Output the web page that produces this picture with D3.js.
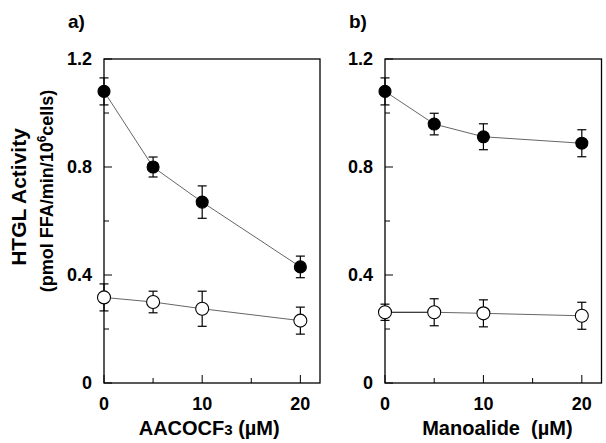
<!DOCTYPE html>
<html>
<head>
<meta charset="utf-8">
<script src="https://cdn.jsdelivr.net/npm/d3@7"></script>
<style>
  body { margin: 0; background: #fff; }
  text { font-family: "Liberation Sans", Arial, sans-serif; font-weight: bold; fill: #000; }
</style>
</head>
<body>
<svg id="chart" width="606" height="443"></svg>
<script>
// doses (uM)
const doses = [0, 5, 10, 20];

// panel a) AACOCF3
const aFilled = [1.08, 0.80, 0.67, 0.43];
const aFilledErr = [0.05, 0.037, 0.06, 0.04];
const aOpen = [0.317, 0.30, 0.275, 0.231];
const aOpenErr = [0.05, 0.04, 0.065, 0.05];

// panel b) Manoalide
const bFilled = [1.08, 0.959, 0.912, 0.888];
const bFilledErr = [0.05, 0.04, 0.048, 0.05];
const bOpen = [0.262, 0.262, 0.258, 0.249];
const bOpenErr = [0.03, 0.05, 0.05, 0.05];

const yMajor = [0, 0.4, 0.8, 1.2];
const yMinor = [0.2, 0.6, 1.0];
const xMajor = [0, 10, 20];
const xMinor = [5, 15];

const svg = d3.select('#chart');

const y = d3.scaleLinear().domain([0, 1.2]).range([383, 59]);

function panel(opts) {
  const x = d3.scaleLinear().domain([0, 22]).range([opts.left, opts.right]);
  const g = svg.append('g');

  // frame
  g.append('rect')
    .attr('x', opts.left).attr('y', y(1.2))
    .attr('width', opts.right - opts.left).attr('height', y(0) - y(1.2))
    .attr('fill', 'none').attr('stroke', '#000').attr('stroke-width', 1.3);

  // y ticks (inward)
  g.selectAll('.ymaj').data(yMajor).enter().append('line')
    .attr('x1', opts.left).attr('x2', opts.left + 8)
    .attr('y1', d => y(d)).attr('y2', d => y(d))
    .attr('stroke', '#000').attr('stroke-width', 1);
  g.selectAll('.ymin').data(yMinor).enter().append('line')
    .attr('x1', opts.left).attr('x2', opts.left + 5)
    .attr('y1', d => y(d)).attr('y2', d => y(d))
    .attr('stroke', '#000').attr('stroke-width', 1);
  g.selectAll('.ylab').data(yMajor).enter().append('text')
    .attr('x', opts.left - 12).attr('y', d => y(d))
    .attr('dy', '0.36em')
    .attr('text-anchor', 'end')
    .style('font-size', '18px')
    .text(d => d === 0 ? '0' : d.toFixed(1));

  // x ticks (inward)
  g.selectAll('.xmaj').data(xMajor).enter().append('line')
    .attr('x1', d => x(d)).attr('x2', d => x(d))
    .attr('y1', y(0)).attr('y2', y(0) - 8)
    .attr('stroke', '#000').attr('stroke-width', 1);
  g.selectAll('.xmin').data(xMinor).enter().append('line')
    .attr('x1', d => x(d)).attr('x2', d => x(d))
    .attr('y1', y(0)).attr('y2', y(0) - 5)
    .attr('stroke', '#000').attr('stroke-width', 1);
  g.selectAll('.xlab').data(xMajor).enter().append('text')
    .attr('x', d => x(d)).attr('y', 410)
    .attr('text-anchor', 'middle')
    .style('font-size', '18px')
    .text(d => d);

  // panel label
  g.append('text').attr('x', opts.labelX).attr('y', 28)
    .style('font-size', '19px').text(opts.label);

  // x title
  opts.xTitle(g.append('text').attr('x', (x(0) + x(20)) / 2 + opts.titleShift).attr('y', 435)
    .attr('text-anchor', 'middle').style('font-size', '20px'));

  // series
  opts.series.forEach(s => {
    const pts = doses.map((d, i) => ({x: d, v: s.vals[i], e: s.errs[i]}));
    d3.pairs(pts).forEach((p, i) => {
      g.append('line')
        .attr('x1', x(p[0].x)).attr('y1', y(p[0].v))
        .attr('x2', x(p[1].x)).attr('y2', y(p[1].v))
        .attr('stroke', (s.darkFirst && i === 0) ? '#000' : '#666')
        .attr('stroke-width', 1);
    });
    const eb = g.append('g');
    pts.forEach(p => {
      eb.append('line').attr('x1', x(p.x)).attr('x2', x(p.x))
        .attr('y1', y(p.v - p.e)).attr('y2', y(p.v + p.e))
        .attr('stroke', '#000').attr('stroke-width', 1.2);
      [p.v - p.e, p.v + p.e].forEach(c => {
        eb.append('line').attr('x1', x(p.x) - 4.5).attr('x2', x(p.x) + 4.5)
          .attr('y1', y(c)).attr('y2', y(c))
          .attr('stroke', '#000').attr('stroke-width', 1.2);
      });
    });
    g.selectAll(null).data(pts).enter().append('circle')
      .attr('cx', d => x(d.x)).attr('cy', d => y(d.v))
      .attr('r', s.filled ? 6 : 6.5)
      .attr('fill', s.filled ? '#000' : '#fff')
      .attr('stroke', '#000').attr('stroke-width', 1.1);
  });
}

panel({
  left: 104, right: 320, label: 'a)', labelX: 68, titleShift: 7,
  series: [
    {vals: aFilled, errs: aFilledErr, filled: true},
    {vals: aOpen, errs: aOpenErr, filled: false}
  ],
  xTitle: t => {
    t.append('tspan').text('AACOCF');
    t.append('tspan').style('font-size', '15px').text('3');
    t.append('tspan').text(' (\u00b5M)');
  }
});

panel({
  left: 385, right: 601.5, label: 'b)', labelX: 349, titleShift: 14,
  series: [
    {vals: bFilled, errs: bFilledErr, filled: true},
    {vals: bOpen, errs: bOpenErr, filled: false, darkFirst: true}
  ],
  xTitle: t => t.text('Manoalide  (\u00b5M)').style('white-space', 'pre').attr('xml:space', 'preserve')
});

// y axis title
const yt = svg.append('g');
yt.append('text')
  .attr('transform', 'translate(26,197) rotate(-90)')
  .attr('text-anchor', 'middle')
  .style('font-size', '21px')
  .text('HTGL Activity');
const yt2 = yt.append('text')
  .attr('transform', 'translate(53,191) rotate(-90)')
  .attr('text-anchor', 'middle')
  .style('font-size', '18px');
yt2.append('tspan').text('(pmol FFA/min/10');
yt2.append('tspan').attr('dy', '-7').style('font-size', '12px').text('6');
yt2.append('tspan').attr('dy', '7').text('cells)');
</script>
</body>
</html>
